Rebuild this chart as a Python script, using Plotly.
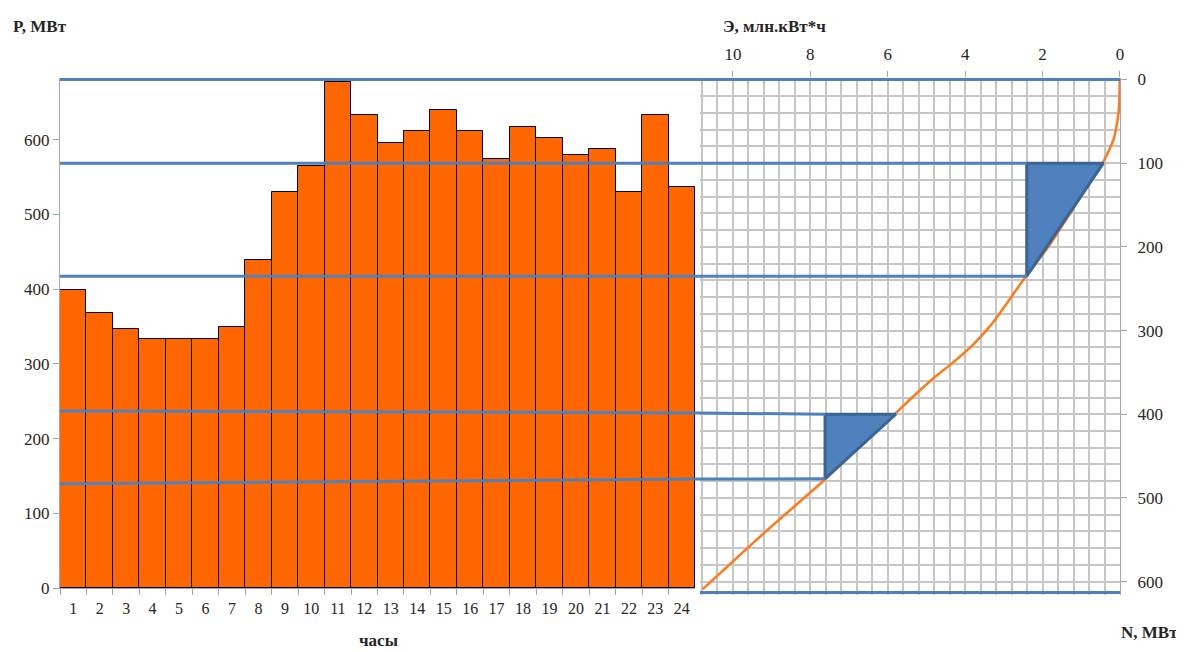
import plotly.graph_objects as go

# ---------------- data ----------------
hours = ["1", "2", "3", "4", "5", "6", "7", "8", "9", "10", "11", "12",
         "13", "14", "15", "16", "17", "18", "19", "20", "21", "22", "23", "24"]
power_mw = [399, 368, 347, 333, 333, 333, 349, 439, 530, 565, 677, 633,
            596, 612, 640, 612, 574, 617, 602, 580, 587, 530, 633, 537]

# integral energy curve (E, млн.кВт*ч  vs  N, МВт)
curve_E = [0.01, 0.01, 0.03, 0.09, 0.17, 0.30, 0.43, 1.15, 1.85, 2.43, 2.87, 3.31,
           3.80, 4.31, 4.82, 5.30, 5.78, 6.70, 7.62, 9.20, 10.78]
curve_N = [0, 12, 36, 56, 72, 86, 98, 150, 200, 235, 264, 292,
           317, 338, 357, 377, 398, 438, 478, 542, 609]

# shaded triangles
tri1_E = [2.41, 0.43, 2.41, 2.41]
tri1_N = [100, 100, 235, 100]
tri2_E = [7.62, 5.79, 7.62, 7.62]
tri2_N = [400, 400, 477, 400]

# blue projection lines (N levels at left edge, at the join, at right end; E at right end)
line_N_left = [0, 100, 235, 396, 483]
line_N_mid = [0, 100, 235, 398.5, 477.5]
line_N_right = [0, 100, 235, 400, 477]
line_E_end = [0, 2.41, 2.41, 7.62, 7.62]
bottom_N = 613

p_ticks = [0, 100, 200, 300, 400, 500, 600]
e_ticks = [0, 2, 4, 6, 8, 10]
n_ticks = [0, 100, 200, 300, 400, 500, 600]

# ---------------- style ----------------
ORANGE = "#FF6600"
CURVE = "#FF7A1A"
BLUE = "#4F81BD"
DARKBLUE = "#3B6494"
GRID = "#C6C6C6"
AXIS = "#A6A6A6"
FONT = "Liberation Serif, Times New Roman, serif"
TXT = "#262626"

X_SPLIT = 0.6038  # start of right panel domain
fig = go.Figure()

fig.add_trace(go.Bar(
    x=hours, y=power_mw, xaxis="x", yaxis="y",
    marker=dict(color=ORANGE, line=dict(color="black", width=1)),
    showlegend=False,
))

fig.add_trace(go.Scatter(
    x=curve_E, y=curve_N, xaxis="x2", yaxis="y2", mode="lines",
    line=dict(color=CURVE, width=2.5, shape="spline", smoothing=0.6),
    showlegend=False,
))
for te, tn in [(tri1_E, tri1_N), (tri2_E, tri2_N)]:
    fig.add_trace(go.Scatter(
        x=te, y=tn, xaxis="x2", yaxis="y2", mode="lines", fill="toself",
        fillcolor=BLUE, line=dict(color=DARKBLUE, width=3),
        showlegend=False,
    ))

shapes = []
for nl, nm, nr, ee in zip(line_N_left, line_N_mid, line_N_right, line_E_end):
    shapes.append(dict(type="line", xref="paper", yref="y2", x0=0, x1=X_SPLIT,
                       y0=nl, y1=nm, line=dict(color=BLUE, width=3)))
    shapes.append(dict(type="line", xref="x2", yref="y2", x0=10.85, x1=ee,
                       y0=nm, y1=nr, line=dict(color=BLUE, width=3)))
shapes.append(dict(type="line", xref="x2", yref="y2", x0=10.85, x1=0,
                   y0=bottom_N, y1=bottom_N, line=dict(color=BLUE, width=3)))

tickfont = dict(family=FONT, size=17, color=TXT)
xtickfont = dict(family=FONT, size=16, color=TXT)
titlefont = dict(family=FONT, size=17, color=TXT)

# the page body adds an 8px offset, so the figure is 8px smaller than the window
fig.update_layout(
    width=1176, height=644,
    margin=dict(l=52, r=64, t=70, b=57, autoexpand=False),
    paper_bgcolor="white", plot_bgcolor="white",
    bargap=0,
    font=dict(family=FONT, color=TXT),
    xaxis=dict(domain=[0, 0.5991], type="category", anchor="y", automargin=False,
               showline=True, linecolor=AXIS, linewidth=1.2, tickangle=0,
               ticks="outside", tickson="boundaries", ticklen=6, tickcolor=AXIS,
               ticklabelstandoff=6,
               tickfont=xtickfont, showgrid=False, zeroline=False),
    yaxis=dict(domain=[0.01354, 1], range=[0, 682.7], anchor="x", automargin=False,
               tickvals=p_ticks, showline=True, linecolor=AXIS, linewidth=1.2,
               ticks="outside", ticklen=6, tickcolor=AXIS,
               tickfont=tickfont, showgrid=False, zeroline=False),
    xaxis2=dict(domain=[X_SPLIT, 1], range=[10.85, 0], anchor="y2", side="top",
                automargin=False,
                tickvals=e_ticks, ticks="outside", ticklen=6, tickcolor=AXIS,
                ticklabelstandoff=4,
                showline=False, tickfont=tickfont, zeroline=False,
                showgrid=True, gridcolor=GRID, gridwidth=1.5,
                minor=dict(dtick=0.4, tick0=0, showgrid=True, gridcolor=GRID, gridwidth=1.5)),
    yaxis2=dict(domain=[0, 1], range=[616, -1.8], anchor="x2", side="right",
                automargin=False,
                tickvals=n_ticks, ticks="outside", ticklen=6, tickcolor=AXIS,
                ticklabelstandoff=7,
                showline=True, linecolor=AXIS, linewidth=1.2, mirror=False,
                tickfont=tickfont, zeroline=False,
                showgrid=True, gridcolor=GRID, gridwidth=1.5,
                minor=dict(dtick=20, tick0=0, showgrid=True, gridcolor=GRID, gridwidth=1.5)),
    shapes=shapes,
    annotations=[
        dict(text="<b>P, МВт</b>", xref="paper", yref="paper", x=-0.0189, y=1.0987,
             xanchor="center", yanchor="middle", showarrow=False, font=titlefont),
        dict(text="<b>Э, млн.кВт*ч</b>", xref="paper", yref="paper", x=0.6745, y=1.0987,
             xanchor="center", yanchor="middle", showarrow=False, font=titlefont),
        dict(text="<b>часы</b>", xref="paper", yref="paper", x=0.30, y=-0.088,
             xanchor="center", yanchor="middle", showarrow=False, font=titlefont),
        dict(text="<b>N, МВт</b>", xref="paper", yref="paper", x=1.0283, y=-0.0716,
             xanchor="center", yanchor="middle", showarrow=False, font=titlefont),
    ],
)

fig.write_html("out.html")
